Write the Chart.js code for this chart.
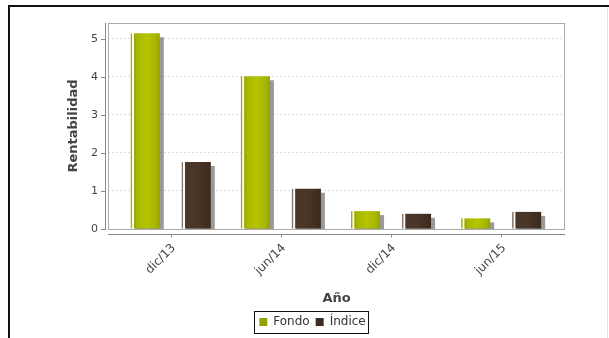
<!DOCTYPE html>
<html lang="es">
<head>
<meta charset="utf-8">
<title>Rentabilidad</title>
<script src="https://cdn.jsdelivr.net/npm/chart.js@4.4.1/dist/chart.umd.min.js"></script>
<style>
    html, body { margin: 0; padding: 0; background: #fff; overflow: hidden; }
    #frame { position: absolute; left: 8px; top: 5px; width: 640px; height: 400px;
             border-top: 2px solid #111; border-left: 2px solid #111; }
    #edge { position: absolute; left: 607px; top: 7px; width: 1px; height: 340px; background: #e2e2e2; }
    #wrap { position: absolute; left: 0; top: 0; width: 609px; height: 338px; }
</style>
</head>
<body>
<div id="frame"></div>
<div id="edge"></div>
<div id="wrap"><canvas id="chart" width="609" height="338"></canvas></div>
<script>
// datos
const categorias = ['dic/13', 'jun/14', 'dic/14', 'jun/15'];
const fondo = [5.15, 4.02, 0.47, 0.28];
const indice = [1.76, 1.06, 0.40, 0.45];
const yTicks = [0, 1, 2, 3, 4, 5];

// colores: [posición, color] a lo ancho de cada barra
const fondoStops = [[0, '#a2ad10'], [0.04, '#a2ad10'], [0.06, '#fbfcea'], [0.1, '#fbfcea'],
                    [0.13, '#98a500'], [0.22, '#a9b700'], [0.55, '#b6c400'], [0.85, '#a7b600'], [1, '#94a200']];
const indiceStops = [[0, '#857569'], [0.04, '#857569'], [0.06, '#fbf8f5'], [0.1, '#fbf8f5'],
                     [0.13, '#4a3628'], [0.5, '#4b3728'], [1, '#3b2a1d']];

// degradado horizontal por barra (la primera pasada no tiene posición todavía)
function barGradient(stops, solid) {
    return (ctx) => {
        const el = ctx.element;
        if (!el || !Number.isFinite(el.x) || !Number.isFinite(el.width)) return solid;
        const x0 = el.x - el.width / 2;
        const g = ctx.chart.ctx.createLinearGradient(x0, 0, x0 + el.width, 0);
        stops.forEach(([p, c]) => g.addColorStop(p, c));
        return g;
    };
}

const toPoints = (vals) => vals.map((v, i) => ({ x: i, y: v }));

// marco del gráfico, ejes separados, sombras y caja de la leyenda
const marcoPlugin = {
    id: 'marco',
    beforeDatasetsDraw(chart) {
        const c = chart.ctx;
        c.save();
        c.shadowColor = 'rgba(128,128,128,0.8)';
        c.shadowOffsetX = 4;
        c.shadowOffsetY = 4;
        c.shadowBlur = 0;
    },
    afterDatasetsDraw(chart) {
        chart.ctx.restore();
    },
    afterDraw(chart) {
        const c = chart.ctx;
        const { left, right, top, bottom } = chart.chartArea;
        const xs = chart.scales.x, ys = chart.scales.y;
        c.save();
        c.lineWidth = 1;
        c.strokeStyle = '#aaaaaa';
        c.strokeRect(left + 0.5, top + 0.5, right - left - 1, bottom - top);

        c.strokeStyle = '#888888';
        c.beginPath();
        // eje Y
        c.moveTo(left - 2.5, top);
        c.lineTo(left - 2.5, bottom + 1);
        ys.ticks.forEach(t => {
            const y = Math.round(ys.getPixelForValue(t.value)) + 0.5;
            c.moveTo(left - 7, y);
            c.lineTo(left - 2.5, y);
        });
        // eje X
        c.moveTo(left, bottom + 5.5);
        c.lineTo(right, bottom + 5.5);
        xs.ticks.forEach(t => {
            const x = Math.round(xs.getPixelForValue(t.value)) + 0.5;
            c.moveTo(x, bottom + 5.5);
            c.lineTo(x, bottom + 8.5);
        });
        c.stroke();

        // caja de la leyenda
        const boxes = chart.legend.legendHitBoxes;
        if (boxes && boxes.length) {
            const l = Math.min(...boxes.map(b => b.left)) - 5;
            const r = Math.max(...boxes.map(b => b.left + b.width)) + 3;
            const t = Math.min(...boxes.map(b => b.top)) - 5;
            const b2 = Math.max(...boxes.map(b => b.top + b.height)) + 5;
            c.strokeStyle = '#111';
            c.strokeRect(Math.round(l) + 0.5, Math.round(t) + 0.5, Math.round(r - l), Math.round(b2 - t));
        }
        c.restore();
    }
};

const ctx = document.getElementById('chart').getContext('2d');
const chart = new Chart(ctx, {
    type: 'bar',
    data: {
        datasets: [
            {
                label: 'Fondo',
                data: toPoints(fondo),
                backgroundColor: barGradient(fondoStops, '#808e00')
            },
            {
                label: 'Índice',
                data: toPoints(indice),
                backgroundColor: barGradient(indiceStops, '#3f2d20')
            }
        ]
    },
    options: {
        responsive: false,
        animation: false,
        categoryPercentage: 0.926,
        barPercentage: 0.57,
        layout: { padding: { left: 60, top: 23, right: 44, bottom: 0 } },
        plugins: {
            tooltip: { enabled: false },
            legend: {
                position: 'bottom',
                labels: {
                    boxWidth: 8,
                    boxHeight: 8,
                    padding: 6,
                    color: '#333',
                    font: { family: 'DejaVu Sans', size: 12 }
                }
            }
        },
        scales: {
            x: {
                type: 'linear',
                offset: false,
                min: -0.57,
                max: 3.58,
                afterBuildTicks: (s) => { s.ticks = categorias.map((_, i) => ({ value: i })); },
                afterFit: (s) => { s.height = 81; },
                grid: { display: false, drawTicks: false },
                border: { display: false },
                ticks: {
                    autoSkip: false,
                    minRotation: 45,
                    maxRotation: 45,
                    padding: 12,
                    labelOffset: 3,
                    color: '#444',
                    font: { family: 'DejaVu Sans', size: 12 },
                    callback: (v) => categorias[v] ?? ''
                },
                title: {
                    display: true,
                    text: 'Año',
                    color: '#444',
                    padding: { top: 0, bottom: 4 },
                    font: { family: 'DejaVu Sans', size: 13, weight: 'bold' }
                }
            },
            y: {
                min: 0,
                max: 5.42,
                afterBuildTicks: (s) => { s.ticks = yTicks.map(v => ({ value: v })); },
                afterFit: (s) => { s.width = 48; },
                grid: { color: '#dddddd', drawTicks: false },
                border: { display: false, dash: [2, 2] },
                ticks: {
                    padding: 10,
                    color: '#444',
                    font: { family: 'DejaVu Sans', size: 11 }
                },
                title: {
                    display: true,
                    text: 'Rentabilidad',
                    color: '#444',
                    padding: { top: 6, bottom: 0 },
                    font: { family: 'DejaVu Sans', size: 13, weight: 'bold' }
                }
            }
        }
    },
    plugins: [marcoPlugin]
});

// segunda pasada: las barras ya tienen posición para el degradado
chart.update('none');
</script>
</body>
</html>
